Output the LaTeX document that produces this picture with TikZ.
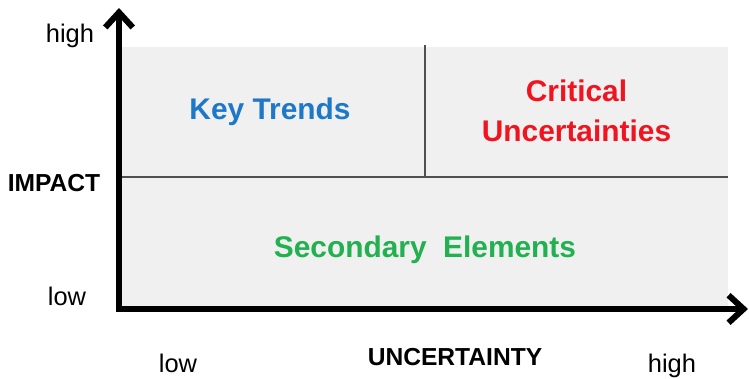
\documentclass[tikz,border=0pt]{standalone}
\usepackage{fontspec}
\setmainfont{Liberation Sans}
\usetikzlibrary{arrows.meta}

\definecolor{bggray}{HTML}{F0F0F0}
\definecolor{divgray}{HTML}{505050}
\definecolor{trendblue}{HTML}{1E78C8}
\definecolor{critred}{HTML}{F01420}
\definecolor{secgreen}{HTML}{22B050}

\tikzset{
  axis/.style={line width=0.12cm, line join=miter, {Straight Barb[length=0.3cm,width=0.55cm]}-{Straight Barb[length=0.3cm,width=0.55cm]}},
  divider/.style={divgray, line width=0.04cm},
  axislbl/.style={anchor=base, inner sep=0pt, font=\fontsize{14.5}{17}\selectfont},
  axisname/.style={anchor=base, inner sep=0pt, font=\fontsize{14}{17}\selectfont\bfseries},
  quadlbl/.style={inner sep=0pt, align=center, font=\fontsize{17}{22.7}\selectfont\bfseries}
}

\begin{document}
\begin{tikzpicture}[thick]
    \useasboundingbox (0,0) rectangle (14.98,7.56);

    % grid area
    \fill[bggray] (2.44,1.42) rectangle (14.56,6.62);

    \coordinate (midw) at (2.44, 4.02);
    \coordinate (mide) at (14.56, 4.02);
    \coordinate (midtop) at (8.5, 6.66);
    \coordinate (midbot) at (8.5, 4.02);

    \draw[divider] (midw) -- (mide);
    \draw[divider] (midtop) -- (midbot);

    % axes
    \coordinate (ytop) at (2.38, 7.40);
    \coordinate (origin) at (2.38, 1.38);
    \coordinate (xend) at (14.96, 1.38);

    \draw[axis] (ytop) -- (origin) -- (xend);

    % axis labels
    \node[axislbl] (yhigh) at (1.40, 6.70) {high};
    \node[axisname] (impact) at (1.08, 3.72) {IMPACT};
    \node[axislbl] (ylow) at (1.34, 1.46) {low};

    \node[axislbl] (xlow) at (3.56, 0.12) {low};
    \node[axisname] (uncert) at (9.10, 0.26) {UNCERTAINTY};
    \node[axislbl] (xhigh) at (13.44, 0.12) {high};

    % quadrants
    \node[quadlbl, text=trendblue, anchor=base] (trends) at (5.40, 5.16) {Key Trends};
    \node[quadlbl, text=critred] (critical) at (11.53, 5.34) {Critical\\Uncertainties};
    \node[quadlbl, text=secgreen, anchor=base] (secondary) at (8.50, 2.42) {Secondary\ \ Elements};
\end{tikzpicture}
\end{document}
